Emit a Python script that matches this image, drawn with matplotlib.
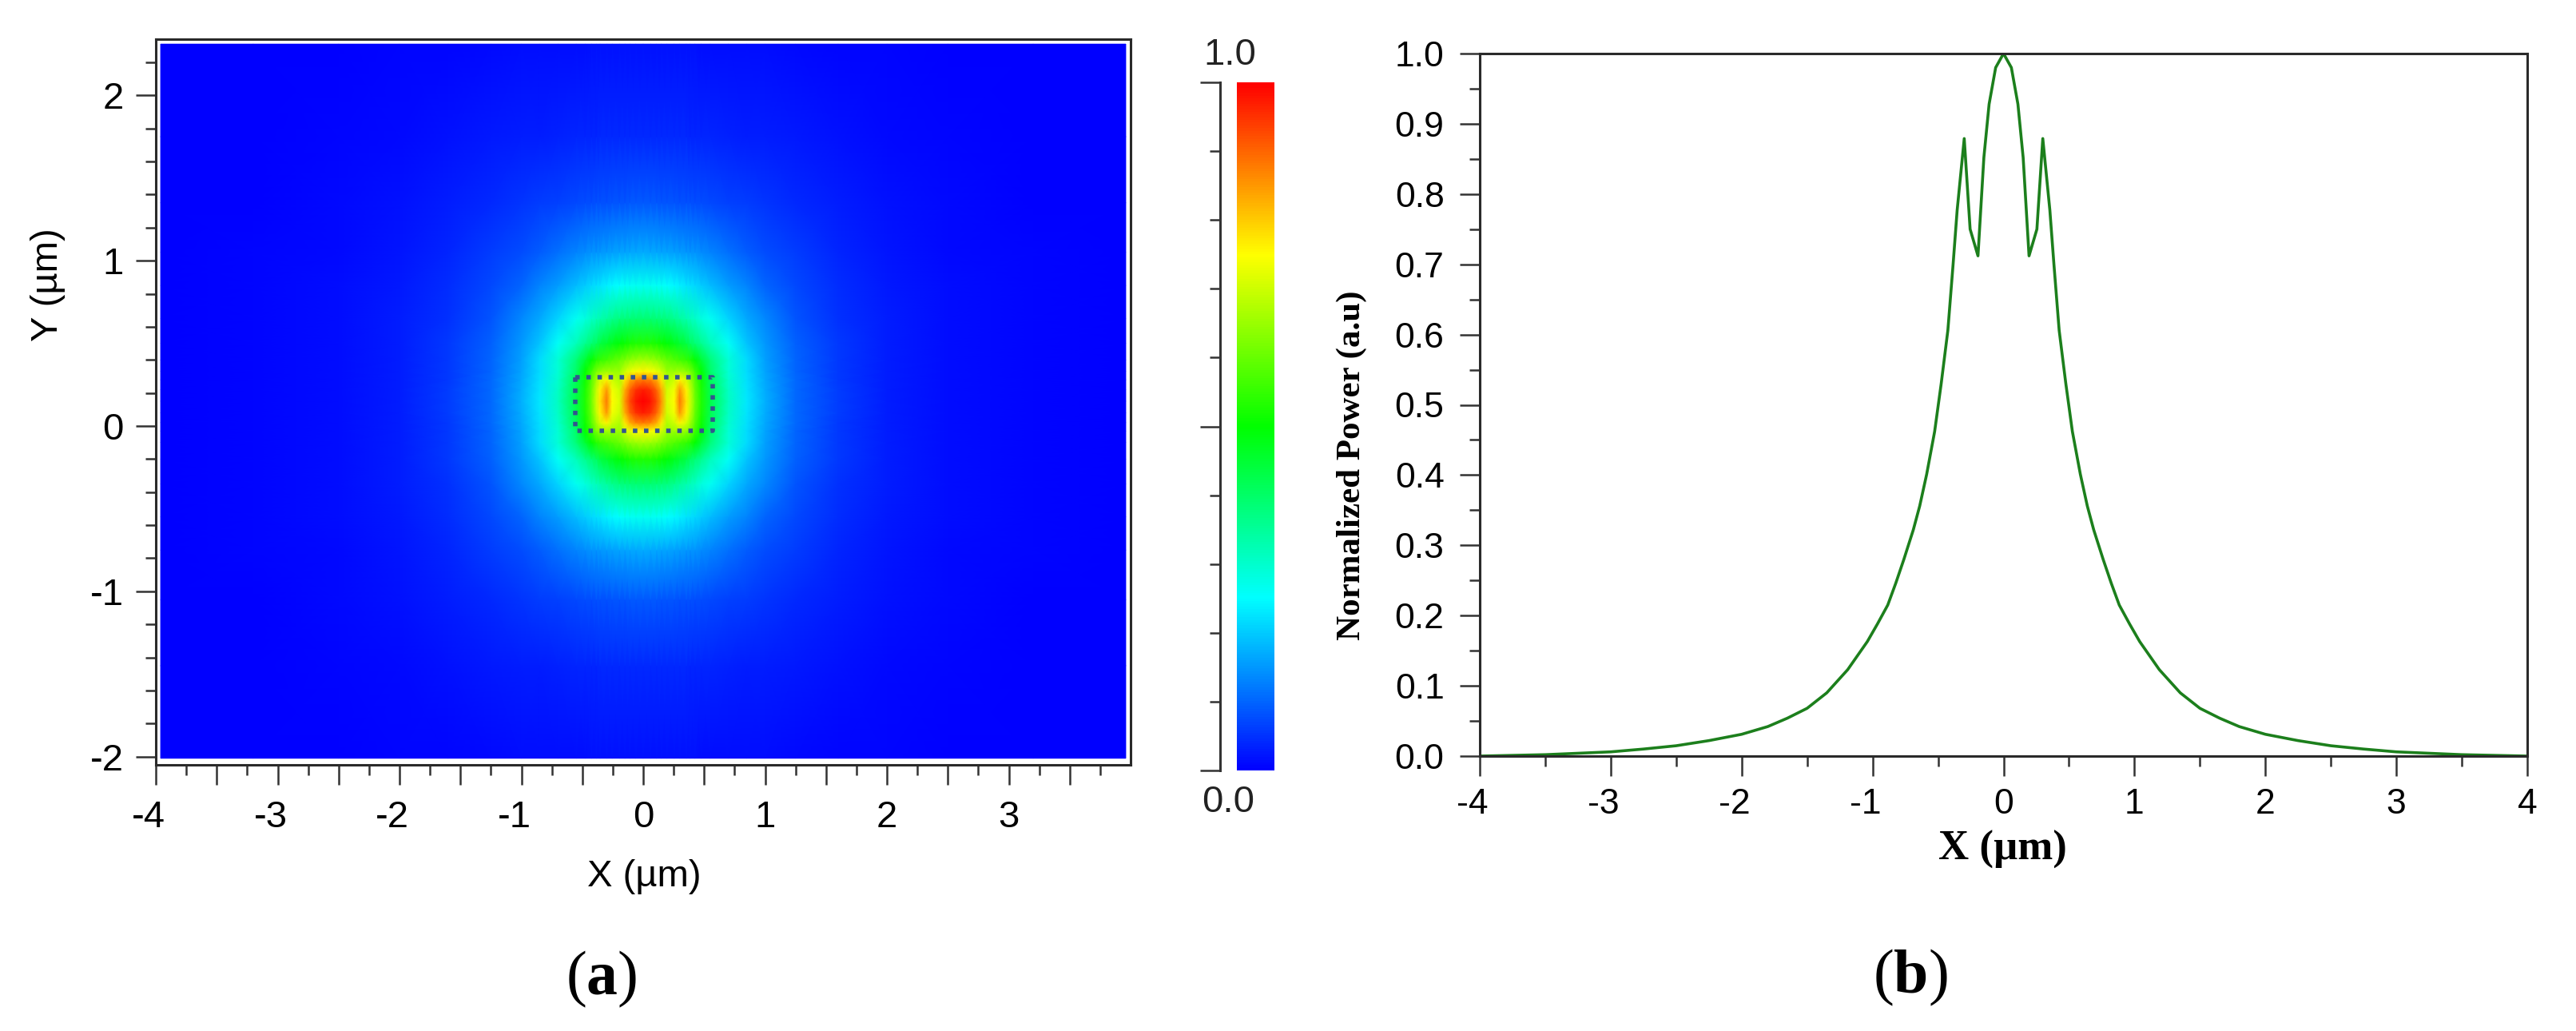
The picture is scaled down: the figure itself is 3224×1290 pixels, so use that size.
import numpy as np
import matplotlib
matplotlib.use("Agg")
import matplotlib.pyplot as plt
from matplotlib.colors import LinearSegmentedColormap
from matplotlib.transforms import ScaledTranslation

W = 3224
H = 1290
DPI = 100

plt.rcParams['font.family'] = ['Liberation Sans', 'DejaVu Sans']
plt.rcParams['mathtext.fontset'] = 'custom'
plt.rcParams['mathtext.rm'] = 'Liberation Serif'
plt.rcParams['mathtext.bf'] = 'Liberation Serif:bold'

# field map (a) for x >= 0 and above the centre line
map_x = [0, 0.06, 0.11, 0.15, 0.195, 0.255, 0.3, 0.354, 0.385, 0.425, 0.476,
         0.55, 0.7, 0.85, 1.0, 1.25, 1.6, 2.0, 2.5, 3.2, 3.96]
map_d = [0, 0.07, 0.13, 0.18, 0.25, 0.35, 0.5, 0.7, 0.9, 1.2, 1.6, 2.16]
map_centre_y = 0.15
map_power = [
    [1.00, .980, .928, .852, .712, .750, .879, .777, .700, .606, .530, .430, .310, .230, .172, .105, .060, .031, .0147, .005, 0],
    [.970, .950, .900, .830, .700, .735, .850, .760, .690, .600, .525, .425, .305, .225, .170, .104, .059, .031, .0147, .005, 0],
    [.880, .870, .830, .770, .670, .700, .760, .710, .660, .585, .515, .415, .300, .220, .167, .102, .058, .030, .0145, .005, 0],
    [.760, .750, .730, .700, .650, .650, .660, .640, .620, .560, .500, .400, .290, .215, .163, .100, .057, .030, .0143, .005, 0],
    [.660, .650, .640, .620, .600, .580, .565, .550, .535, .500, .450, .385, .290, .215, .160, .098, .056, .030, .0140, .005, 0],
    [.530, .530, .520, .510, .495, .475, .455, .435, .410, .390, .360, .320, .258, .195, .150, .095, .055, .030, .0140, .005, 0],
    [.390, .390, .385, .380, .375, .360, .345, .330, .320, .305, .285, .265, .210, .165, .135, .085, .050, .028, .0135, .005, 0],
    [.265, .263, .260, .258, .252, .245, .237, .226, .220, .212, .200, .185, .156, .130, .100, .072, .044, .025, .0120, .004, 0],
    [.168, .167, .165, .164, .162, .158, .155, .150, .148, .145, .140, .130, .110, .092, .078, .060, .036, .022, .0110, .004, 0],
    [.087, .087, .086, .085, .085, .083, .082, .080, .079, .078, .076, .073, .066, .060, .052, .040, .028, .016, .0080, .003, 0],
    [.042, .042, .042, .041, .041, .040, .040, .040, .039, .039, .038, .036, .033, .031, .028, .024, .017, .011, .0055, .002, 0],
    [.016, .016, .016, .016, .016, .016, .016, .016, .016, .016, .015, .0147, .014, .013, .012, .0105, .007, .0055, .003, .001, 0],
]

# dotted waveguide outline in (a)
guide_x = [-0.557, 0.57, 0.57, -0.557, -0.557]
guide_y = [0.297, 0.297, -0.027, -0.027, 0.297]

# power profile (b)
profile_x = [-4.0, -3.5, -3.0, -2.75, -2.5, -2.25, -2.0, -1.8, -1.65, -1.5, -1.35, -1.19, -1.04,
             -0.963, -0.884, -0.823, -0.761, -0.689, -0.64, -0.587, -0.526, -0.476, -0.425,
             -0.385, -0.354, -0.30, -0.255, -0.195, -0.15, -0.11, -0.06, 0.0,
             0.06, 0.11, 0.15, 0.195, 0.255, 0.30, 0.354, 0.385, 0.425, 0.476, 0.526, 0.587,
             0.64, 0.689, 0.761, 0.823, 0.884, 0.963, 1.04, 1.19, 1.35, 1.5, 1.65, 1.8, 2.0,
             2.25, 2.5, 2.75, 3.0, 3.5, 4.0]
profile_y = [0.0, 0.002, 0.006, 0.010, 0.0147, 0.022, 0.031, 0.042, 0.054, 0.068, 0.09, 0.123, 0.163,
             0.188, 0.215, 0.246, 0.28, 0.322, 0.356, 0.401, 0.462, 0.53, 0.606,
             0.70, 0.777, 0.879, 0.75, 0.712, 0.852, 0.928, 0.98, 1.0,
             0.98, 0.928, 0.852, 0.712, 0.75, 0.879, 0.777, 0.70, 0.606, 0.53, 0.462, 0.401,
             0.356, 0.322, 0.28, 0.246, 0.215, 0.188, 0.163, 0.123, 0.09, 0.068, 0.054, 0.042, 0.031,
             0.022, 0.0147, 0.010, 0.006, 0.002, 0.0]

rainbow = LinearSegmentedColormap.from_list(
    'rsoft', ['#0000ff', '#00ffff', '#00ff00', '#ffff00', '#ff0000'])


def px_axes(fig, left, top, right, bottom):
    return fig.add_axes([left / W, 1 - bottom / H, (right - left) / W, (bottom - top) / H])


def style_frame(ax):
    for s in ax.spines.values():
        s.set_linewidth(2.2)
        s.set_color('#2a2a2a')
    ax.tick_params(which='major', direction='out', length=18, width=1.8, color='#333333')
    ax.tick_params(which='minor', direction='out', length=9.5, width=1.8, color='#333333')


def shift_negative_labels(ax, fig):
    # the minus sign hangs to the left of the tick in the original
    for lab in ax.get_xticklabels():
        if lab.get_text().startswith('-'):
            lab.set_transform(lab.get_transform() + ScaledTranslation(-9 / DPI, 0, fig.dpi_scale_trans))


fig = plt.figure(figsize=(W / DPI, H / DPI), dpi=DPI, facecolor='white')

# (a) field map
ax_map = px_axes(fig, 195, 49, 1415, 957)
half = np.array(map_power)
full = np.hstack([half[:, :0:-1], half])
full = np.vstack([full[:0:-1], full])
xs = np.array(map_x)
xs = np.concatenate([-xs[:0:-1], xs])
ds = np.array(map_d)
ys = np.concatenate([-ds[:0:-1], ds]) + map_centre_y
mesh = ax_map.pcolormesh(xs, ys, full, cmap=rainbow, vmin=0, vmax=1, shading='gouraud', rasterized=True)
ax_map.plot(guide_x, guide_y, color='#33558f', lw=4, linestyle=(0, (1, 1.5)), dash_capstyle='butt')
ax_map.set_xlim(-4, 4)
ax_map.set_ylim(-2.05, 2.34)
style_frame(ax_map)
ax_map.set_xticks(np.arange(-4, 4, 0.5))
ax_map.set_xticks(np.arange(-3.75, 4, 0.5), minor=True)
ax_map.set_xticklabels(['-4', '', '-3', '', '-2', '', '-1', '', '0', '', '1', '', '2', '', '3', ''])
ax_map.set_yticks([-2, -1, 0, 1, 2])
ax_map.set_yticklabels(['-2', '-1', '0', '1', '2'])
ax_map.set_yticks(np.arange(-1.8, 2.3, 0.2), minor=True)
ax_map.tick_params(axis='x', which='major', labelsize=34, pad=14)
ax_map.tick_params(axis='y', which='major', labelsize=34, pad=11)
shift_negative_labels(ax_map, fig)
fig.text(806 / W, 1 - 1097 / H, 'X (\u00b5m)', fontsize=34, ha='center', va='center')
fig.text(60 / W, 1 - 356 / H, 'Y (\u00b5m)', fontsize=34, ha='center', va='center', rotation=90)
fig.text(753 / W, 1 - 1225 / H, r'$\mathrm{(}\mathbf{a}\mathrm{)}$', fontsize=56, ha='center', va='center')

# colour scale
ax_bar = px_axes(fig, 1548, 103, 1595, 964)
cb = fig.colorbar(mesh, cax=ax_bar)
cb.set_ticks([])
cb.outline.set_visible(False)

ax_scale = px_axes(fig, 1480, 103, 1527, 964)
ax_scale.patch.set_visible(False)
for side in ['left', 'top', 'bottom']:
    ax_scale.spines[side].set_visible(False)
ax_scale.spines['right'].set_linewidth(2.2)
ax_scale.spines['right'].set_color('#333333')
ax_scale.set_xticks([])
ax_scale.set_ylim(0, 1)
ax_scale.yaxis.tick_right()
ax_scale.set_yticks([0, 0.5, 1])
ax_scale.set_yticks(np.arange(0.1, 1, 0.1), minor=True)
ax_scale.set_yticklabels([])
ax_scale.tick_params(which='major', direction='in', length=18, width=1.8, color='#333333')
ax_scale.tick_params(which='minor', direction='in', length=9.5, width=1.8, color='#333333')
fig.text(1539 / W, 1 - 69 / H, '1.0', fontsize=34, ha='center', va='center', color='#222222')
fig.text(1537 / W, 1 - 1004 / H, '0.0', fontsize=34, ha='center', va='center', color='#222222')

# (b) profile
ax_line = px_axes(fig, 1852, 67, 3163, 946)
ax_line.plot(profile_x, profile_y, color='#1c7f1c', lw=2.6)
ax_line.set_xlim(-4, 4)
ax_line.set_ylim(0, 1)
style_frame(ax_line)
ax_line.set_xticks(np.arange(-4, 5, 1))
ax_line.set_xticklabels(['-4', '-3', '-2', '-1', '0', '1', '2', '3', '4'])
ax_line.set_xticks(np.arange(-3.5, 4, 1), minor=True)
ax_line.set_yticks(np.arange(0, 1.01, 0.1))
ax_line.set_yticklabels(['0.0', '0.1', '0.2', '0.3', '0.4', '0.5', '0.6', '0.7', '0.8', '0.9', '1.0'])
ax_line.set_yticks(np.arange(0.05, 1, 0.1), minor=True)
ax_line.tick_params(axis='x', which='major', labelsize=32, pad=11)
ax_line.tick_params(axis='y', which='major', labelsize=32, pad=14)
shift_negative_labels(ax_line, fig)
fig.text(2506 / W, 1 - 1063 / H, 'X (\u00b5m)', fontsize=38, fontweight='bold', family=['Liberation Serif', 'DejaVu Serif'],
         ha='center', va='center')
fig.text(1692 / W, 1 - 582 / H, 'Normalized Power (a.u)', fontsize=31, fontweight='bold',
         family=['Liberation Serif', 'DejaVu Serif'], ha='center', va='center', rotation=90)
fig.text(2391 / W, 1 - 1223 / H, r'$\mathrm{(}\mathbf{b}\mathrm{)}$', fontsize=56, ha='center', va='center')

fig.savefig('out.png', dpi=DPI)
